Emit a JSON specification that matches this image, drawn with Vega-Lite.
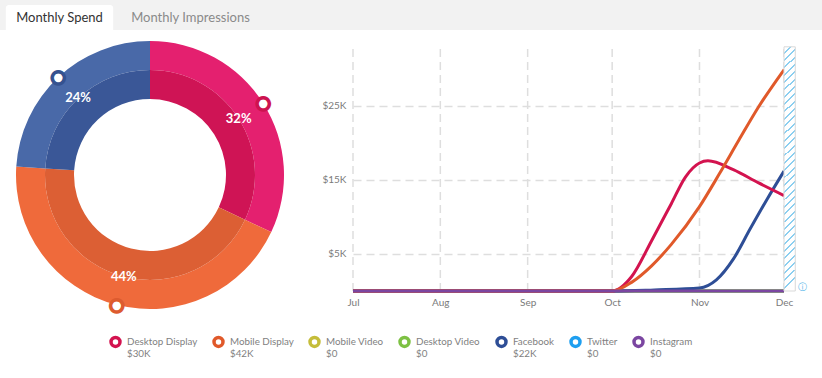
{
  "$schema": "https://vega.github.io/schema/vega-lite/v6.json",
  "background": "white",
  "padding": 0,
  "spacing": 0,
  "config": {"view": {"stroke": null}, "font": "Lato"},
  "vconcat": [
    {
      "width": 822,
      "height": 30,
      "view": {"fill": "#f2f2f2", "stroke": null},
      "data": {"values": [{"tab": "Monthly Spend", "active": true}, {"tab": "Monthly Impressions", "active": false}]},
      "encoding": {
        "x": {"field": "tab", "type": "nominal", "sort": null, "scale": {"domain": ["Monthly Spend", "Monthly Impressions"], "range": [0, 262], "paddingInner": 0, "paddingOuter": 0}, "axis": null}
      },
      "layer": [
        {
          "transform": [{"filter": "datum.active"}],
          "mark": {"type": "bar", "color": "white", "width": {"band": 0.82}, "xOffset": -6, "cornerRadiusTopLeft": 3, "cornerRadiusTopRight": 3},
          "encoding": {
            "y": {"datum": 1, "type": "quantitative", "scale": {"domain": [0, 1.15]}, "axis": null},
            "y2": {"datum": 0}
          }
        },
        {
          "mark": {"type": "text", "fontSize": 13, "dx": -6, "baseline": "middle"},
          "encoding": {
            "y": {"datum": 0.5, "type": "quantitative"},
            "text": {"field": "tab"},
            "color": {"condition": {"test": "datum.active", "value": "#333333"}, "value": "#8a8a8a"}
          }
        }
      ]
    },
    {
      "spacing": 21,
      "hconcat": [
        {
          "width": 300,
          "height": 290,
          "data": {"values": [
            {"channel": "Desktop Display", "pct": 32, "label": "32%", "rank": 1},
            {"channel": "Mobile Display", "pct": 44, "label": "44%", "rank": 2},
            {"channel": "Facebook", "pct": 24, "label": "24%", "rank": 3}
          ]},
          "encoding": {
            "theta": {"field": "pct", "type": "quantitative", "stack": true},
            "order": {"field": "rank", "type": "quantitative"}
          },
          "layer": [
            {
              "mark": {"type": "arc", "radius": 134, "radius2": 105},
              "encoding": {"color": {"field": "channel", "type": "nominal", "scale": {"domain": ["Desktop Display", "Mobile Display", "Facebook"], "range": ["#e4206f", "#ef6a3b", "#4969a8"]}, "legend": null}}
            },
            {
              "mark": {"type": "arc", "radius": 105, "radius2": 76},
              "encoding": {"fill": {"field": "channel", "type": "nominal", "scale": {"domain": ["Desktop Display", "Mobile Display", "Facebook"], "range": ["#cf1455", "#dc5f34", "#3a5797"]}, "legend": null}}
            },
            {
              "mark": {"type": "text", "radius": 105, "fill": "white", "fontSize": 13, "fontWeight": "bold", "baseline": "middle"},
              "encoding": {"text": {"field": "label"}}
            },
            {
              "mark": {"type": "text", "radius": 134, "fontSize": 16, "font": "DejaVu Sans", "baseline": "middle", "fill": "white", "strokeWidth": 3.5},
              "encoding": {
                "text": {"value": "●"},
                "stroke": {"condition": [{"test": "datum.channel == 'Desktop Display'", "value": "#cd1350"}, {"test": "datum.channel == 'Mobile Display'", "value": "#dd5b2f"}], "value": "#35528f"}
              }
            }
          ]
        },
        {
          "width": 431,
          "height": 261,
          "layer": [
            {
              "data": {"values": [{"date": "2019-07-01"}, {"date": "2019-08-01"}, {"date": "2019-09-01"}, {"date": "2019-10-01"}, {"date": "2019-11-01"}, {"date": "2019-12-01"}]},
              "mark": {"type": "rule", "color": "#dedede", "strokeWidth": 1.5, "strokeDash": [8, 5]},
              "encoding": {
                "x": {"field": "date", "type": "temporal", "scale": {"type": "utc", "domain": [{"year": 2019, "month": 7, "date": 1, "utc": true}, {"year": 2019, "month": 12, "date": 1, "utc": true}]},
                  "axis": {"format": "%b", "tickCount": {"interval": "month", "step": 1}, "grid": false, "domain": false, "ticks": false, "labelPadding": 6, "labelColor": "#7a7a7a", "labelFontSize": 10, "labelFlush": false, "labelOverlap": false, "title": null}},
                "y": {"datum": 0, "type": "quantitative", "scale": {"domain": [0, 35270], "nice": false},
                  "axis": {"values": [5000, 15000, 25000], "labelExpr": "'$' + datum.value/1000 + 'K'", "grid": true, "gridDash": [8, 5], "gridColor": "#dedede", "gridWidth": 1.5, "domain": false, "ticks": false, "labelPadding": 7, "labelColor": "#7a7a7a", "labelFontSize": 10, "title": null}},
                "y2": {"datum": 33000}
              }
            },
            {
              "data": {"values": [
                {"s": "Twitter|$0", "date": "2019-07-01", "v": 0}, {"s": "Twitter|$0", "date": "2019-08-01", "v": 0}, {"s": "Twitter|$0", "date": "2019-09-01", "v": 0}, {"s": "Twitter|$0", "date": "2019-10-01", "v": 0}, {"s": "Twitter|$0", "date": "2019-11-01", "v": 0}, {"s": "Twitter|$0", "date": "2019-12-01", "v": 0},
                {"s": "Mobile Video|$0", "date": "2019-07-01", "v": 0}, {"s": "Mobile Video|$0", "date": "2019-08-01", "v": 0}, {"s": "Mobile Video|$0", "date": "2019-09-01", "v": 0}, {"s": "Mobile Video|$0", "date": "2019-10-01", "v": 0}, {"s": "Mobile Video|$0", "date": "2019-11-01", "v": 0}, {"s": "Mobile Video|$0", "date": "2019-12-01", "v": 0},
                {"s": "Desktop Video|$0", "date": "2019-07-01", "v": 0}, {"s": "Desktop Video|$0", "date": "2019-08-01", "v": 0}, {"s": "Desktop Video|$0", "date": "2019-09-01", "v": 0}, {"s": "Desktop Video|$0", "date": "2019-10-01", "v": 0}, {"s": "Desktop Video|$0", "date": "2019-11-01", "v": 0}, {"s": "Desktop Video|$0", "date": "2019-12-01", "v": 0},
                {"s": "Facebook|$22K", "date": "2019-07-01", "v": 0}, {"s": "Facebook|$22K", "date": "2019-08-01", "v": 0}, {"s": "Facebook|$22K", "date": "2019-09-01", "v": 0}, {"s": "Facebook|$22K", "date": "2019-10-01", "v": 0}, {"s": "Facebook|$22K", "date": "2019-10-16", "v": 150}, {"s": "Facebook|$22K", "date": "2019-11-01", "v": 400}, {"s": "Facebook|$22K", "date": "2019-11-07", "v": 1500}, {"s": "Facebook|$22K", "date": "2019-11-13", "v": 4300}, {"s": "Facebook|$22K", "date": "2019-11-19", "v": 8400}, {"s": "Facebook|$22K", "date": "2019-11-25", "v": 12400}, {"s": "Facebook|$22K", "date": "2019-12-01", "v": 16200},
                {"s": "Desktop Display|$30K", "date": "2019-07-01", "v": 0}, {"s": "Desktop Display|$30K", "date": "2019-08-01", "v": 0}, {"s": "Desktop Display|$30K", "date": "2019-09-01", "v": 0}, {"s": "Desktop Display|$30K", "date": "2019-10-01", "v": 0}, {"s": "Desktop Display|$30K", "date": "2019-10-08", "v": 2000}, {"s": "Desktop Display|$30K", "date": "2019-10-15", "v": 6800}, {"s": "Desktop Display|$30K", "date": "2019-10-22", "v": 11800}, {"s": "Desktop Display|$30K", "date": "2019-10-27", "v": 15400}, {"s": "Desktop Display|$30K", "date": "2019-11-01", "v": 17300}, {"s": "Desktop Display|$30K", "date": "2019-11-04", "v": 17600}, {"s": "Desktop Display|$30K", "date": "2019-11-13", "v": 16400}, {"s": "Desktop Display|$30K", "date": "2019-11-22", "v": 14600}, {"s": "Desktop Display|$30K", "date": "2019-12-01", "v": 12900},
                {"s": "Mobile Display|$42K", "date": "2019-07-01", "v": 0}, {"s": "Mobile Display|$42K", "date": "2019-08-01", "v": 0}, {"s": "Mobile Display|$42K", "date": "2019-09-01", "v": 0}, {"s": "Mobile Display|$42K", "date": "2019-10-01", "v": 0}, {"s": "Mobile Display|$42K", "date": "2019-10-08", "v": 1200}, {"s": "Mobile Display|$42K", "date": "2019-10-15", "v": 3400}, {"s": "Mobile Display|$42K", "date": "2019-10-22", "v": 6300}, {"s": "Mobile Display|$42K", "date": "2019-11-01", "v": 11400}, {"s": "Mobile Display|$42K", "date": "2019-11-08", "v": 15800}, {"s": "Mobile Display|$42K", "date": "2019-11-15", "v": 20400}, {"s": "Mobile Display|$42K", "date": "2019-11-22", "v": 24900}, {"s": "Mobile Display|$42K", "date": "2019-12-01", "v": 29900},
                {"s": "Instagram|$0", "date": "2019-07-01", "v": 0}, {"s": "Instagram|$0", "date": "2019-08-01", "v": 0}, {"s": "Instagram|$0", "date": "2019-09-01", "v": 0}, {"s": "Instagram|$0", "date": "2019-10-01", "v": 0}, {"s": "Instagram|$0", "date": "2019-11-01", "v": 0}, {"s": "Instagram|$0", "date": "2019-12-01", "v": 0}
              ]},
              "mark": {"type": "line", "strokeWidth": 3, "interpolate": "monotone"},
              "encoding": {
                "x": {"field": "date", "type": "temporal", "scale": {"type": "utc", "domain": [{"year": 2019, "month": 7, "date": 1, "utc": true}, {"year": 2019, "month": 12, "date": 1, "utc": true}]},
                  "axis": {"format": "%b", "tickCount": {"interval": "month", "step": 1}, "grid": false, "domain": false, "ticks": false, "labelPadding": 6, "labelColor": "#7a7a7a", "labelFontSize": 10, "labelFlush": false, "labelOverlap": false, "title": null}},
                "y": {"field": "v", "type": "quantitative", "scale": {"domain": [0, 35270], "nice": false},
                  "axis": {"values": [5000, 15000, 25000], "labelExpr": "'$' + datum.value/1000 + 'K'", "grid": true, "gridDash": [8, 5], "gridColor": "#dedede", "gridWidth": 1.5, "domain": false, "ticks": false, "labelPadding": 7, "labelColor": "#7a7a7a", "labelFontSize": 10, "title": null}},
                "stroke": {"field": "s", "type": "nominal",
                  "scale": {"domain": ["Desktop Display|$30K", "Mobile Display|$42K", "Mobile Video|$0", "Desktop Video|$0", "Facebook|$22K", "Twitter|$0", "Instagram|$0"], "range": ["#d3134f", "#e0592a", "#c5bd3a", "#7dc143", "#2e4e96", "#1e9ff0", "#7b46a1"]},
                  "legend": {"orient": "none", "legendX": 109, "legendY": 335, "direction": "horizontal", "title": null, "symbolType": "circle", "symbolSize": 80, "symbolStrokeWidth": 3.5, "symbolFillColor": "white", "labelExpr": "split(datum.label, '|')", "labelFontSize": 9.8, "labelColor": "#7f7f7f", "labelOffset": 5, "columnPadding": 9, "labelLimit": 200}}
              }
            },
            {
              "data": {"values": [{"start": "2019-12-01", "end": "2019-12-05"}]},
              "mark": {"type": "rect", "stroke": "#d9d9d9", "strokeWidth": 1,
                "fill": {"gradient": "linear", "x1": 0, "y1": 0, "x2": 0.045, "y2": 1, "stops": [
                  {"offset": 0, "color": "#ffffff"},
                  {"offset": 0.022, "color": "#ffffff"}, {"offset": 0.022, "color": "#8ccff0"}, {"offset": 0.03, "color": "#8ccff0"}, {"offset": 0.03, "color": "#ffffff"},
                  {"offset": 0.052, "color": "#ffffff"}, {"offset": 0.052, "color": "#8ccff0"}, {"offset": 0.06, "color": "#8ccff0"}, {"offset": 0.06, "color": "#ffffff"},
                  {"offset": 0.082, "color": "#ffffff"}, {"offset": 0.082, "color": "#8ccff0"}, {"offset": 0.09, "color": "#8ccff0"}, {"offset": 0.09, "color": "#ffffff"},
                  {"offset": 0.112, "color": "#ffffff"}, {"offset": 0.112, "color": "#8ccff0"}, {"offset": 0.12, "color": "#8ccff0"}, {"offset": 0.12, "color": "#ffffff"},
                  {"offset": 0.142, "color": "#ffffff"}, {"offset": 0.142, "color": "#8ccff0"}, {"offset": 0.15, "color": "#8ccff0"}, {"offset": 0.15, "color": "#ffffff"},
                  {"offset": 0.172, "color": "#ffffff"}, {"offset": 0.172, "color": "#8ccff0"}, {"offset": 0.18, "color": "#8ccff0"}, {"offset": 0.18, "color": "#ffffff"},
                  {"offset": 0.202, "color": "#ffffff"}, {"offset": 0.202, "color": "#8ccff0"}, {"offset": 0.21, "color": "#8ccff0"}, {"offset": 0.21, "color": "#ffffff"},
                  {"offset": 0.232, "color": "#ffffff"}, {"offset": 0.232, "color": "#8ccff0"}, {"offset": 0.24, "color": "#8ccff0"}, {"offset": 0.24, "color": "#ffffff"},
                  {"offset": 0.262, "color": "#ffffff"}, {"offset": 0.262, "color": "#8ccff0"}, {"offset": 0.27, "color": "#8ccff0"}, {"offset": 0.27, "color": "#ffffff"},
                  {"offset": 0.292, "color": "#ffffff"}, {"offset": 0.292, "color": "#8ccff0"}, {"offset": 0.3, "color": "#8ccff0"}, {"offset": 0.3, "color": "#ffffff"},
                  {"offset": 0.322, "color": "#ffffff"}, {"offset": 0.322, "color": "#8ccff0"}, {"offset": 0.33, "color": "#8ccff0"}, {"offset": 0.33, "color": "#ffffff"},
                  {"offset": 0.352, "color": "#ffffff"}, {"offset": 0.352, "color": "#8ccff0"}, {"offset": 0.36, "color": "#8ccff0"}, {"offset": 0.36, "color": "#ffffff"},
                  {"offset": 0.382, "color": "#ffffff"}, {"offset": 0.382, "color": "#8ccff0"}, {"offset": 0.39, "color": "#8ccff0"}, {"offset": 0.39, "color": "#ffffff"},
                  {"offset": 0.412, "color": "#ffffff"}, {"offset": 0.412, "color": "#8ccff0"}, {"offset": 0.42, "color": "#8ccff0"}, {"offset": 0.42, "color": "#ffffff"},
                  {"offset": 0.442, "color": "#ffffff"}, {"offset": 0.442, "color": "#8ccff0"}, {"offset": 0.45, "color": "#8ccff0"}, {"offset": 0.45, "color": "#ffffff"},
                  {"offset": 0.472, "color": "#ffffff"}, {"offset": 0.472, "color": "#8ccff0"}, {"offset": 0.48, "color": "#8ccff0"}, {"offset": 0.48, "color": "#ffffff"},
                  {"offset": 0.502, "color": "#ffffff"}, {"offset": 0.502, "color": "#8ccff0"}, {"offset": 0.51, "color": "#8ccff0"}, {"offset": 0.51, "color": "#ffffff"},
                  {"offset": 0.532, "color": "#ffffff"}, {"offset": 0.532, "color": "#8ccff0"}, {"offset": 0.54, "color": "#8ccff0"}, {"offset": 0.54, "color": "#ffffff"},
                  {"offset": 0.562, "color": "#ffffff"}, {"offset": 0.562, "color": "#8ccff0"}, {"offset": 0.57, "color": "#8ccff0"}, {"offset": 0.57, "color": "#ffffff"},
                  {"offset": 0.592, "color": "#ffffff"}, {"offset": 0.592, "color": "#8ccff0"}, {"offset": 0.6, "color": "#8ccff0"}, {"offset": 0.6, "color": "#ffffff"},
                  {"offset": 0.622, "color": "#ffffff"}, {"offset": 0.622, "color": "#8ccff0"}, {"offset": 0.63, "color": "#8ccff0"}, {"offset": 0.63, "color": "#ffffff"},
                  {"offset": 0.652, "color": "#ffffff"}, {"offset": 0.652, "color": "#8ccff0"}, {"offset": 0.66, "color": "#8ccff0"}, {"offset": 0.66, "color": "#ffffff"},
                  {"offset": 0.682, "color": "#ffffff"}, {"offset": 0.682, "color": "#8ccff0"}, {"offset": 0.69, "color": "#8ccff0"}, {"offset": 0.69, "color": "#ffffff"},
                  {"offset": 0.712, "color": "#ffffff"}, {"offset": 0.712, "color": "#8ccff0"}, {"offset": 0.72, "color": "#8ccff0"}, {"offset": 0.72, "color": "#ffffff"},
                  {"offset": 0.742, "color": "#ffffff"}, {"offset": 0.742, "color": "#8ccff0"}, {"offset": 0.75, "color": "#8ccff0"}, {"offset": 0.75, "color": "#ffffff"},
                  {"offset": 0.772, "color": "#ffffff"}, {"offset": 0.772, "color": "#8ccff0"}, {"offset": 0.78, "color": "#8ccff0"}, {"offset": 0.78, "color": "#ffffff"},
                  {"offset": 0.802, "color": "#ffffff"}, {"offset": 0.802, "color": "#8ccff0"}, {"offset": 0.81, "color": "#8ccff0"}, {"offset": 0.81, "color": "#ffffff"},
                  {"offset": 0.832, "color": "#ffffff"}, {"offset": 0.832, "color": "#8ccff0"}, {"offset": 0.84, "color": "#8ccff0"}, {"offset": 0.84, "color": "#ffffff"},
                  {"offset": 0.862, "color": "#ffffff"}, {"offset": 0.862, "color": "#8ccff0"}, {"offset": 0.87, "color": "#8ccff0"}, {"offset": 0.87, "color": "#ffffff"},
                  {"offset": 0.892, "color": "#ffffff"}, {"offset": 0.892, "color": "#8ccff0"}, {"offset": 0.9, "color": "#8ccff0"}, {"offset": 0.9, "color": "#ffffff"},
                  {"offset": 0.922, "color": "#ffffff"}, {"offset": 0.922, "color": "#8ccff0"}, {"offset": 0.93, "color": "#8ccff0"}, {"offset": 0.93, "color": "#ffffff"},
                  {"offset": 0.952, "color": "#ffffff"}, {"offset": 0.952, "color": "#8ccff0"}, {"offset": 0.96, "color": "#8ccff0"}, {"offset": 0.96, "color": "#ffffff"},
                  {"offset": 0.982, "color": "#ffffff"}, {"offset": 0.982, "color": "#8ccff0"}, {"offset": 0.99, "color": "#8ccff0"}, {"offset": 0.99, "color": "#ffffff"},
                  {"offset": 1, "color": "#ffffff"}
                ]}},
              "encoding": {
                "x": {"field": "start", "type": "temporal", "scale": {"type": "utc", "domain": [{"year": 2019, "month": 7, "date": 1, "utc": true}, {"year": 2019, "month": 12, "date": 1, "utc": true}]},
                  "axis": {"format": "%b", "tickCount": {"interval": "month", "step": 1}, "grid": false, "domain": false, "ticks": false, "labelPadding": 6, "labelColor": "#7a7a7a", "labelFontSize": 10, "labelFlush": false, "labelOverlap": false, "title": null}},
                "x2": {"field": "end"},
                "y": {"datum": 33000, "type": "quantitative",
                  "axis": {"values": [5000, 15000, 25000], "labelExpr": "'$' + datum.value/1000 + 'K'", "grid": true, "gridDash": [8, 5], "gridColor": "#dedede", "gridWidth": 1.5, "domain": false, "ticks": false, "labelPadding": 7, "labelColor": "#7a7a7a", "labelFontSize": 10, "title": null}},
                "y2": {"datum": 0}
              }
            },
            {
              "data": {"values": [{"end": "2019-12-05"}]},
              "mark": {"type": "text", "text": "ⓘ", "font": "DejaVu Sans", "fontSize": 9, "color": "#4fb3e8", "align": "left", "dx": 3, "dy": -4, "baseline": "middle"},
              "encoding": {
                "x": {"field": "end", "type": "temporal",
                  "axis": {"format": "%b", "tickCount": {"interval": "month", "step": 1}, "grid": false, "domain": false, "ticks": false, "labelPadding": 6, "labelColor": "#7a7a7a", "labelFontSize": 10, "labelFlush": false, "labelOverlap": false, "title": null}},
                "y": {"datum": 0, "type": "quantitative",
                  "axis": {"values": [5000, 15000, 25000], "labelExpr": "'$' + datum.value/1000 + 'K'", "grid": true, "gridDash": [8, 5], "gridColor": "#dedede", "gridWidth": 1.5, "domain": false, "ticks": false, "labelPadding": 7, "labelColor": "#7a7a7a", "labelFontSize": 10, "title": null}}
              }
            }
          ]
        }
      ]
    }
  ]
}
